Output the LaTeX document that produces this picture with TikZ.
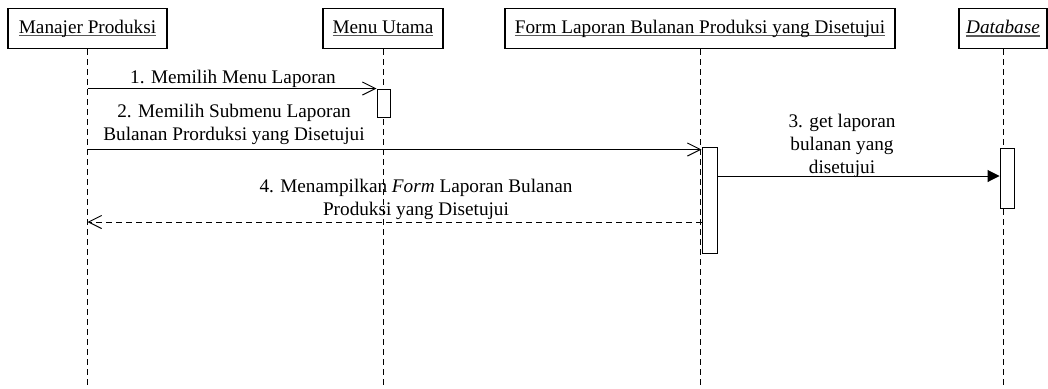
\documentclass[tikz,border=0pt]{standalone}
\usepackage{fontspec}
\setmainfont{Liberation Serif}
\usepackage{tikz}
\usetikzlibrary{arrows.meta}
\usetikzlibrary{positioning}
\newcommand{\pxu}{0.52pt}
\newcommand{\objname}[1]{\setbox0\hbox{#1}\rlap{\color{black!65}\rule[-1.7pt]{\wd0}{0.8pt}}\box0}
\tikzset{obj/.style = {draw, line width = 0.55pt, minimum height = 40*\pxu, inner sep = 0}}
\tikzset{act/.style = {draw, fill = white, line width = 0.5pt, minimum width = 14*\pxu, inner sep = 0}}
\tikzset{life/.style = {line width = 0.5pt, dash pattern = on 3.1pt off 2.1pt}}
\tikzset{call/.style = {line width = 0.5pt, -{Straight Barb[length = 6.8pt, width = 6.8pt]}}}
\tikzset{sync/.style = {line width = 0.5pt, -{Triangle[length = 6.2pt, width = 6.2pt]}}}
\tikzset{reply/.style = {call, dash pattern = on 3.1pt off 2.1pt}}
\tikzset{lbl/.style = {align = center, inner sep = 0}}

\begin{document}
\begin{tikzpicture}[x = \pxu, y = -\pxu]
      \useasboundingbox (0, 0) rectangle (1048, 388);
      \coordinate (bot) at (0, 388);

      % objects and lifelines
      \node [obj, minimum width = 159*\pxu] (mp) at (87.5, 28.5) {\objname{Manajer Produksi}};
      \node [obj, minimum width = 120*\pxu] (mu) at (383, 28.5) {\objname{Menu Utama}};
      \node [obj, minimum width = 390*\pxu] (fl) at (700, 28.5) {\objname{Form Laporan Bulanan Produksi yang Disetujui}};
      \node [obj, minimum width = 88*\pxu] (db) at (1003, 28.5) {\objname{\textit{Database}}};

      \draw [life] (mp) -- (mp |- bot);
      \draw [life] (mu) -- (mu |- bot);
      \draw [life] (fl) -- (fl |- bot);
      \draw [life] (db) -- (db |- bot);

      % activations
      \node [act, minimum width = 13*\pxu, minimum height = 28*\pxu] (a1) at (383.5, 103) {};
      \node [act, minimum width = 15*\pxu, minimum height = 106*\pxu] (a2) at (709.5, 200) {};
      \node [act, minimum height = 60*\pxu] (a3) at (1007, 178) {};

      % messages
      \draw [call] (a1.north west -| mp) -- (a1.north west);
      \coordinate (m2) at ([yshift = -3*\pxu] a2.north west);
      \draw [call] (m2 -| mp) -- (m2);
      \coordinate (m3) at ([yshift = 2*\pxu] a3.west);
      \draw [sync] (m3 -| a2.east) -- (m3);
      \coordinate (m4) at ([yshift = -22*\pxu] a2.west);
      \draw [reply] (m4) -- (m4 -| mp);

      \node [lbl] (l1) at (233, 78.5) {1. Memilih Menu Laporan};
      \node [lbl] (l2) at (234, 124) {2. Memilih Submenu Laporan\\Bulanan Prorduksi yang Disetujui};
      \node [lbl] (l3) at (842, 145.5) {3. get laporan\\bulanan yang\\disetujui};
      \node [lbl] (l4) at (416, 199.5) {4. Menampilkan \textit{Form} Laporan Bulanan\\Produksi yang Disetujui};
    \end{tikzpicture}
\end{document}
